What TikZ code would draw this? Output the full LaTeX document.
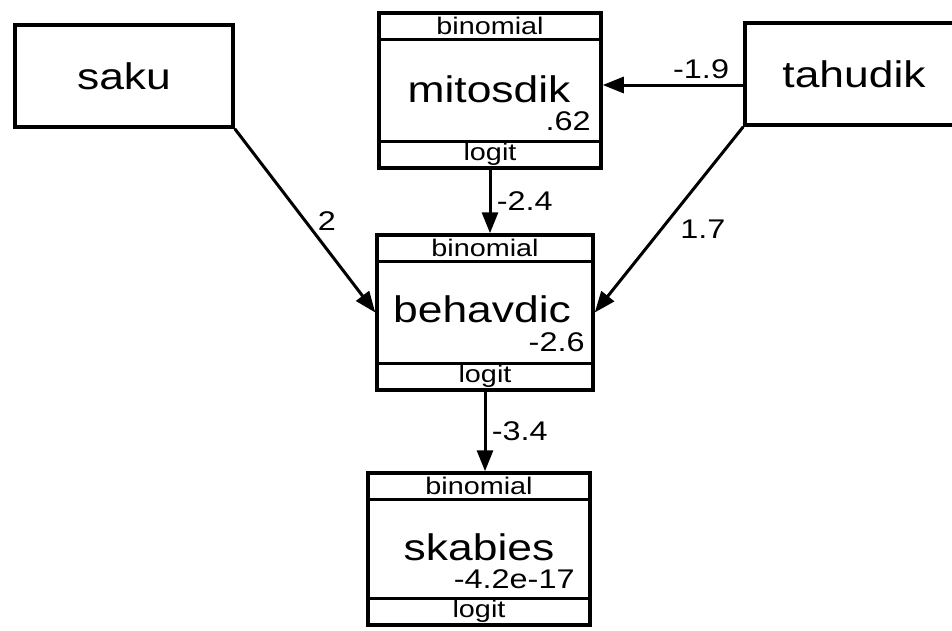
\documentclass[tikz,border=0pt]{standalone}
\usepackage{fontspec}
\setmainfont{Liberation Sans}[FakeStretch=1.2]
\usepackage{tikz}
\usetikzlibrary{positioning}
\usetikzlibrary{arrows.meta}

\begin{document}
\begin{tikzpicture}[
  x=1pt, y=-1pt,
  obs/.style={
    rectangle,
    draw=black,
    line width=3.5pt,
    minimum width=218pt,
    minimum height=102pt,
    font=\fontsize{37}{40}\selectfont
  },
  dist/.style={
    rectangle,
    draw=black,
    line width=3.5pt,
    minimum width=#1,
    minimum height=155pt
  },
  band/.style={
    rectangle,
    draw=black,
    line width=3pt,
    minimum width=#1,
    minimum height=27pt,
    inner sep=0pt,
    font=\fontsize{24}{26}\selectfont
  },
  lbl/.style={font=\fontsize{37}{40}\selectfont, inner sep=1pt},
  est/.style={font=\fontsize{27}{30}\selectfont, anchor=east, inner sep=0pt},
  coef/.style={font=\fontsize{27}{30}\selectfont},
  edge/.style={-{Triangle[length=21pt,width=16pt]}, line width=3pt}
]
\clip (0,0) rectangle (952,630);
% observed variables
\node[obs] (saku)    at (124, 76) {saku};
\node[obs] (tahudik) at (854, 74) {tahudik};
% modelled variables
\node[dist=222pt] (mitosdik) at (490, 90.5) {};
\node[band=222pt, anchor=north] (mitosdik-fam) at (mitosdik.north) {binomial};
\node[band=222pt, anchor=south] (mitosdik-link) at (mitosdik.south) {logit};
\node[lbl] (mitosdik-lbl) at (489, 89) {mitosdik};
\node[est] (mitosdik-est) at ([xshift=-12pt, yshift=-31pt]mitosdik.east) {.62};

\node[dist=216pt] (behavdic) at (485, 312.5) {};
\node[band=216pt, anchor=north] (behavdic-fam) at (behavdic.north) {binomial};
\node[band=216pt, anchor=south] (behavdic-link) at (behavdic.south) {logit};
\node[lbl] (behavdic-lbl) at (482, 309) {behavdic};
\node[est] (behavdic-est) at ([xshift=-10pt, yshift=-30pt]behavdic.east) {-2.6};

\node[dist=222pt, minimum height=152pt] (skabies) at (479, 549) {};
\node[band=222pt, anchor=north] (skabies-fam) at (skabies.north) {binomial};
\node[band=222pt, anchor=south] (skabies-link) at (skabies.south) {logit};
\node[lbl] (skabies-lbl) at (479, 547) {skabies};
\node[est] (skabies-est) at ([xshift=-17pt, yshift=-30pt]skabies.east) {-4.2e-17};
% paths
\draw[edge] (saku.south east) -- node[coef, pos=0.5, right=8pt] {2} (behavdic.west);
\draw[edge] (tahudik.south west) -- node[coef, pos=0.55, right=14pt] {1.7} (behavdic.east);
\draw[edge] ([yshift=-11pt]tahudik.west) -- node[coef, pos=0.3, above=1pt] {-1.9} ([yshift=-11pt]tahudik.west -| mitosdik.east);
\draw[edge] (mitosdik.south) -- node[coef, right=2pt] {-2.4} (mitosdik.south |- behavdic.north);
\draw[edge] (behavdic.south) -- node[coef, right=2pt] {-3.4} (behavdic.south |- skabies.north);
\end{tikzpicture}
\end{document}
